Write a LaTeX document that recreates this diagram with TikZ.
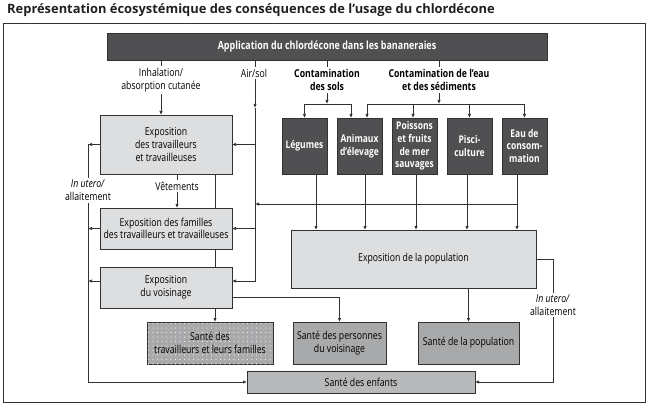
\documentclass[tikz,border=0pt]{standalone}
\usepackage{fontspec}
\setmainfont[FakeStretch=0.8]{Open Sans}
\newfontfamily\titlefont{Open Sans}
\usetikzlibrary{positioning, arrows.meta, calc, patterns.meta}

\definecolor{darkfill}{RGB}{80,80,82}
\definecolor{lightfill}{RGB}{221,222,223}
\definecolor{healthfill}{RGB}{168,169,171}
\definecolor{childfill}{RGB}{184,185,187}
\definecolor{linegray}{RGB}{50,50,50}
\definecolor{titlegray}{RGB}{35,31,32}

\begin{document}
\begin{tikzpicture}[
        x=1pt, y=-1pt,
        font=\fontsize{10.9}{12.7}\selectfont,
        headbox/.style={
            rectangle,
            draw=linegray,
            fill=darkfill,
            text=white,
            font=\fontsize{11.2}{12.7}\selectfont\bfseries,
            outer sep=0pt
        },
        product/.style={
            rectangle,
            draw=linegray,
            fill=darkfill,
            text=white,
            align=center,
            inner sep=0.5pt,
            font=\fontsize{10.6}{12.7}\selectfont\bfseries,
            minimum width=45pt,
            minimum height=56pt,
            outer sep=0pt
        },
        expo/.style={
            rectangle,
            draw=linegray,
            fill=lightfill,
            align=center,
            minimum width=132pt,
            outer sep=0pt
        },
        health/.style={
            rectangle,
            draw=linegray,
            fill=healthfill,
            align=center,
            inner sep=1pt,
            minimum height=42pt,
            outer sep=0pt
        },
        note/.style={
            align=center,
            inner sep=2pt
        },
        boldnote/.style={
            note,
            font=\fontsize{10.9}{13.5}\selectfont\bfseries
        },
        arrow/.style={
            -{Latex[length=4pt, width=3.4pt]},
            line width=0.75pt,
            draw=linegray
        },
        link/.style={
            line width=0.75pt,
            draw=linegray
        }
    ]

    \useasboundingbox (0,0) rectangle (656,409);

    % --------------------------------------------------------
    % Title and frame
    % --------------------------------------------------------

    \node[anchor=west, inner sep=0pt, text=titlegray,
        font=\titlefont\bfseries\fontsize{12.9}{14}\selectfont] (title)
        at (7,10)
        {Représentation écosystémique des conséquences de l’usage du chlordécone};

    \draw[line width=0.9pt, draw=linegray]
        (3,23) rectangle (645,402);

    % --------------------------------------------------------
    % Boxes
    % --------------------------------------------------------

    \node[headbox, minimum width=440pt, minimum height=27pt] (application)
        at (327,46.5)
        {Application du chlordécone dans les bananeraies};

    % exposure of workers and families
    \node[expo, minimum height=59pt] (trav)
        at (166,144.5)
        {Exposition\\des travailleurs\\et travailleuses};

    \node[expo, minimum height=41pt, below=34pt of trav] (fam)
        {Exposition des familles\\des travailleurs et travailleuses};

    \node[expo, minimum height=41pt, below=18pt of fam] (vois)
        {Exposition\\du voisinage};

    % contaminated products
    \node[product] (legumes)
        at (304.5,146)
        {Légumes};

    \node[product, right=10pt of legumes] (animaux)
        {Animaux\\d’élevage};

    \node[product, right=10pt of animaux] (poissons)
        {Poissons\\et fruits\\de mer\\sauvages};

    \node[product, right=10pt of poissons] (pisci)
        {Pisci-\\culture};

    \node[product, right=10pt of pisci] (eau)
        {Eau de\\consom-\\mation};

    \node[expo, minimum width=245pt, minimum height=58pt] (population)
        at (413.5,259)
        {Exposition de la population};

    % health outcomes
    \node[health, minimum width=126pt,
        postaction={pattern={Dots[distance=4.5pt, radius=0.55pt]},
            pattern color=white!80!healthfill}] (santeTrav)
        at (210,343)
        {Santé des\\travailleurs et leurs familles};

    \node[health, minimum width=93pt, right=20pt of santeTrav] (santeVois)
        {Santé des personnes\\du voisinage};

    \node[health, minimum width=101pt, right=32pt of santeVois] (santePop)
        {Santé de la population};

    \node[health, fill=childfill, minimum width=228pt, minimum height=22pt] (enfants)
        at (361,382)
        {Santé des enfants};

    % --------------------------------------------------------
    % Labels on the paths
    % --------------------------------------------------------

    \node[note] (inhal) at (161,80)
        {Inhalation/\\absorption cutanée};

    \node[note] (airsol) at (254,73)
        {Air/sol};

    \node[boldnote] (sols) at (327,80)
        {Contamination\\des sols};

    \node[boldnote] (contEau) at (439,80)
        {Contamination de l’eau\\et des sédiments};

    \node[note] (vetements) at (177,186)
        {Vêtements};

    \node[note] (uteroL) at (88,190.5)
        {\textit{In utero/}\\allaitement};

    \node[note] (uteroR) at (553,305)
        {\textit{In utero/}\\allaitement};

    \coordinate (airsolMid) at (255,108);
    \coordinate (solsBar) at (327,104);
    \coordinate (eauBar) at (439,104);
    \coordinate (foodLine) at (517,204);

    % --------------------------------------------------------
    % Arrows from the application
    % --------------------------------------------------------

    % Inhalation -> workers
    \draw[link]
        (application.south -| inhal) -- (inhal.north);

    \draw[arrow]
        (inhal.south) -- (inhal.south |- trav.north);

    % Air/sol -> the three exposures
    \draw[link]
        (application.south -| airsolMid) -- (airsol.north -| airsolMid);

    \draw[arrow]
        (airsol.south -| airsolMid) -- (airsolMid);

    \draw[arrow]
        (airsolMid) |- ([yshift=6.5pt]vois.east);

    \draw[arrow]
        (airsolMid |- trav.east) -- (trav.east);

    \draw[arrow]
        (airsolMid |- fam.east) -- (fam.east);

    % Soil contamination
    \draw[link]
        (application.south -| sols) -- (sols.north);

    \draw[arrow]
        (sols.south) -- (solsBar);

    \draw[arrow]
        (solsBar) -| (legumes.north);

    \draw[arrow]
        (solsBar) -| ([xshift=-8.5pt]animaux.north);

    % Water contamination
    \draw[link]
        (application.south -| contEau) -- (contEau.north);

    \draw[arrow]
        (contEau.south) -- (eauBar);

    \draw[arrow]
        (eauBar) -| ([xshift=7.5pt]animaux.north);

    \draw[arrow]
        (eauBar) -| ([xshift=-1.5pt]poissons.north);

    \draw[arrow]
        (eauBar) -| (pisci.north);

    \draw[arrow]
        (eauBar) -| (eau.north);

    % --------------------------------------------------------
    % Products -> population
    % --------------------------------------------------------

    \draw[arrow]
        ([xshift=11.5pt]legumes.south)
        -- ([xshift=11.5pt]legumes.south |- population.north);

    \draw[arrow]
        ([xshift=5.5pt]animaux.south)
        -- ([xshift=5.5pt]animaux.south |- population.north);

    \draw[arrow]
        ([xshift=1.5pt]poissons.south)
        -- ([xshift=1.5pt]poissons.south |- population.north);

    \draw[arrow]
        ([xshift=-2.5pt]pisci.south)
        -- ([xshift=-2.5pt]pisci.south |- population.north);

    \draw[arrow]
        ([xshift=-7.5pt]eau.south)
        -- ([xshift=-7.5pt]eau.south |- population.north);

    % Food -> workers side
    \draw[arrow]
        (foodLine) -- (airsolMid |- foodLine);

    % --------------------------------------------------------
    % Workers, families, neighbours
    % --------------------------------------------------------

    \draw[link]
        (trav.south -| vetements) -- (vetements.north);

    \draw[arrow]
        (vetements.south) -- (vetements.south |- fam.north);

    \draw[link]
        ([xshift=49pt]trav.south) -- ([xshift=49pt]fam.north);

    \draw[link]
        ([xshift=49pt]fam.south) -- ([xshift=49pt]vois.north);

    \draw[arrow]
        ([xshift=49pt]vois.south)
        -- ([xshift=49pt]vois.south |- santeTrav.north);

    \draw[arrow]
        ([yshift=-9.5pt]vois.east) -| (santeVois.north);

    % Population -> health
    \draw[arrow]
        (population.south -| santePop) -- (santePop.north);

    % --------------------------------------------------------
    % In utero / breastfeeding
    % --------------------------------------------------------

    \draw[arrow]
        (trav.west) -- (trav.west -| uteroL);

    \draw[link]
        (trav.west -| uteroL) -- (uteroL.north);

    \draw[arrow]
        (fam.west) -- (fam.west -| uteroL);

    \draw[arrow]
        ([yshift=6.5pt]vois.west) -- ([yshift=6.5pt]vois.west -| uteroL);

    \draw[arrow]
        (uteroL.south) |- (enfants.west);

    \draw[link]
        (population.east) -| (uteroR.north);

    \draw[arrow]
        (uteroR.south) |- (enfants.east);

\end{tikzpicture}
\end{document}
